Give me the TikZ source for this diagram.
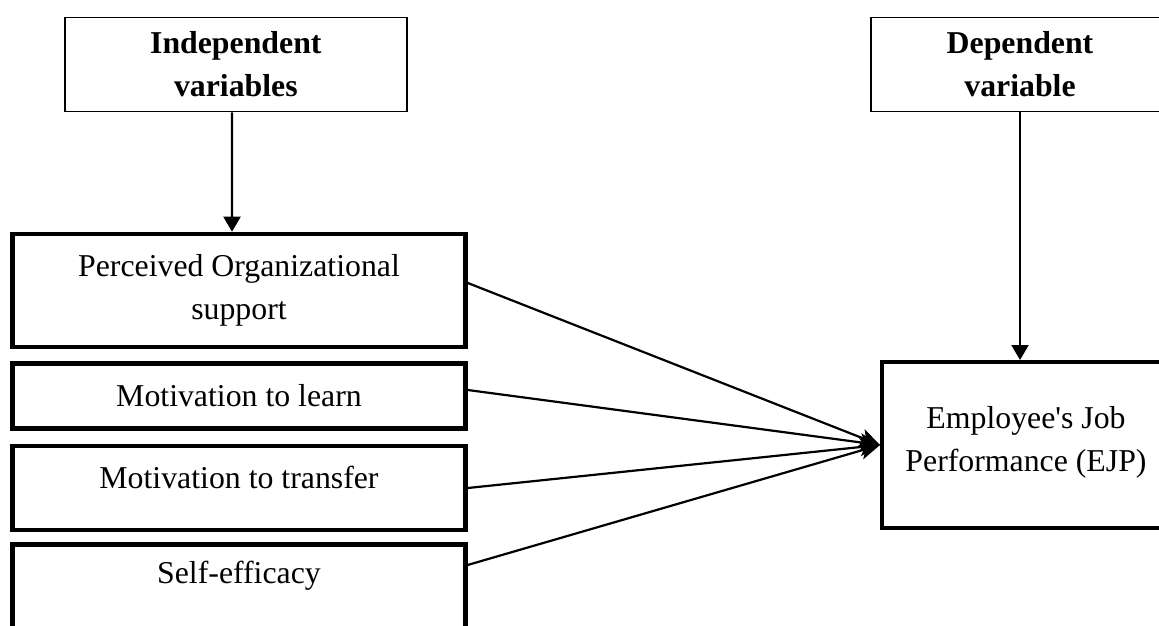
\documentclass[tikz,border=0pt]{standalone}
\usepackage{fontspec}
\setmainfont{Liberation Serif}
\usetikzlibrary{arrows.meta}

\tikzset{
  headbox/.style={draw, line width=0.85pt, align=center, inner sep=0pt, font=\bfseries},
  varbox/.style={draw, line width=2.3pt, align=center, inner sep=0pt},
  toarr/.style={line width=1.1pt, -{Triangle[length=7.5pt,width=8.5pt]}},
  inarr/.style={line width=1.1pt, -{Stealth[length=10pt,width=9pt,inset=2.5pt]}}
}

\begin{document}
\begin{tikzpicture}[x=0.5pt, y=-0.5pt]
  \fontsize{15.9pt}{21.5pt}\selectfont
  \useasboundingbox (0,0) rectangle (1159,625);
  \clip (0,0) rectangle (1159,625);

  % header boxes
  \node[headbox, minimum width=170.85pt, minimum height=47pt] (indep) at (235.85,64.5) {Independent\\variables};
  \node[headbox, minimum width=149pt, minimum height=47pt] (dep) at (1020,64.5) {Dependent\\variable};

  % independent variables
  \node[varbox, minimum width=226.5pt, minimum height=56.5pt] (pos) at (239,290.5) {Perceived Organizational\\support};
  \node[varbox, minimum width=226.5pt, minimum height=32.5pt] (learn) at (239,396) {Motivation to learn};
  \node[varbox, minimum width=226.5pt, minimum height=42pt, text depth=11pt] (transfer) at (239,488) {Motivation to transfer};
  \node[varbox, minimum width=226.5pt, minimum height=49.25pt] (self) at (239,593.75) {Self-efficacy\\{}};

  % dependent variable
  \node[varbox, line width=2pt, minimum width=144pt, minimum height=83pt, text depth=6pt] (ejp) at (1026,445) {Employee\textquotesingle s Job\\Performance (EJP)};

  \draw[toarr] ([xshift=-1.9pt]indep.south) -- ([xshift=-3.5pt]pos.north);
  \draw[toarr] (dep.south) -- (dep.south |- ejp.north);

  \draw[inarr] ([yshift=3.75pt]pos.east) -- (ejp.west);
  \draw[inarr] ([yshift=3pt]learn.east) -- (ejp.west);
  \draw[inarr] (transfer.east) -- (ejp.west);
  \draw[inarr] ([yshift=14.4pt]self.east) -- (ejp.west);
\end{tikzpicture}
\end{document}
